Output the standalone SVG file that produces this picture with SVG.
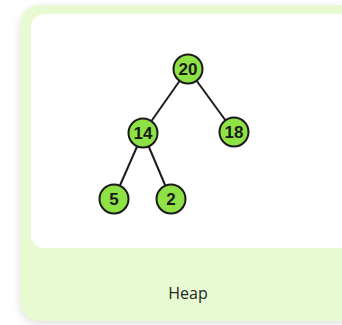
<svg xmlns="http://www.w3.org/2000/svg" width="342" height="325" viewBox="0 0 342 325">
  <defs>
    <filter id="cardShadow" x="-20%" y="-20%" width="140%" height="140%">
      <feGaussianBlur stdDeviation="5"/>
    </filter>
    <style>
      .edge { stroke: #1c1c1c; stroke-width: 2; fill: none; }
      .node circle { fill: #8fe245; stroke: #1a1a1a; stroke-width: 2; }
      .node text { font-family: "Liberation Sans", Arial, sans-serif; font-weight: bold; font-size: 17px; fill: #1a1a1a; text-anchor: middle; dominant-baseline: central; }
      .caption { font-family: "Open Sans", "Liberation Sans", sans-serif; font-size: 16px; font-weight: 500; fill: #262626; text-anchor: middle; }
    </style>
  </defs>

  <rect width="342" height="325" fill="#ffffff"/>

  <!-- card shadow and body -->
  <rect x="20" y="8" width="340" height="316" rx="20" fill="#000000" opacity="0.12" filter="url(#cardShadow)"/>
  <rect x="20" y="5" width="340" height="316" rx="20" fill="#e7fad2"/>

  <!-- white picture panel -->
  <rect x="31" y="14" width="330" height="234" rx="13" fill="#ffffff"/>

  <!-- tree connectors -->
  <g id="edges">
    <line class="edge" x1="188" y1="69" x2="143" y2="133"/>
    <line class="edge" x1="188" y1="69" x2="234" y2="132"/>
    <line class="edge" x1="143" y1="133" x2="114" y2="199"/>
    <line class="edge" x1="143" y1="133" x2="171" y2="199"/>
  </g>

  <g id="node-20" class="node">
    <circle cx="188" cy="69" r="14.5"/>
    <text x="188" y="69">20</text>
  </g>
  <g id="node-14" class="node">
    <circle cx="143" cy="133" r="14.5"/>
    <text x="143" y="133">14</text>
  </g>
  <g id="node-18" class="node">
    <circle cx="234" cy="132" r="14.5"/>
    <text x="234" y="132">18</text>
  </g>
  <g id="node-5" class="node">
    <circle cx="114" cy="199" r="14.5"/>
    <text x="114" y="199">5</text>
  </g>
  <g id="node-2" class="node">
    <circle cx="171" cy="199" r="14.5"/>
    <text x="171" y="199">2</text>
  </g>

  <text class="caption" x="188" y="299">Heap</text>
</svg>
